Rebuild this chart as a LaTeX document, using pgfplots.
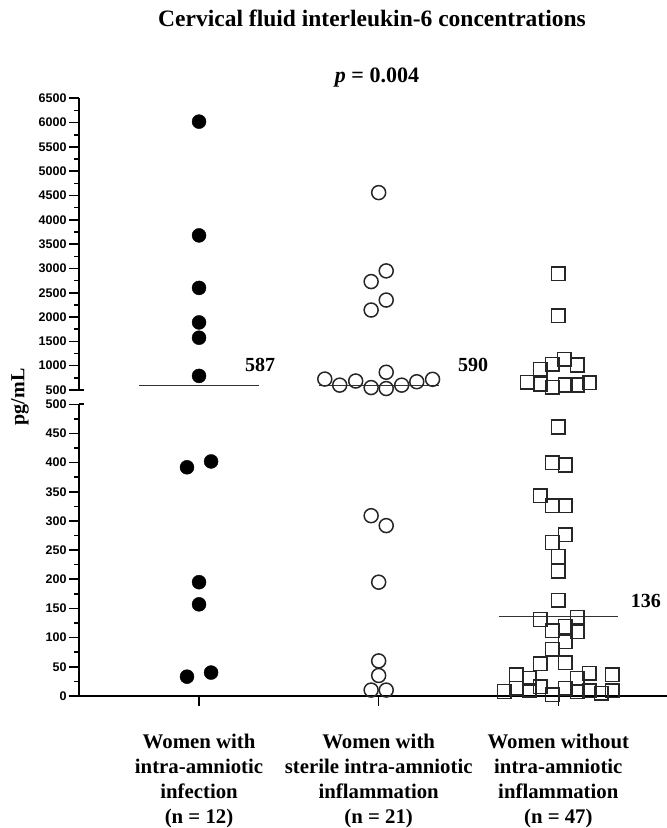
\documentclass[border=0pt]{standalone}
\usepackage{fontspec}
\setmainfont{Liberation Serif}
\newfontfamily\arialfont{Liberation Sans}
\usepackage{pgfplots}
\pgfplotsset{compat=1.18}
\tikzset{lab/.style={anchor=base west, inner sep=0pt, font=\bfseries\fontsize{20}{20}\selectfont},
 cat/.style={anchor=north, align=center, inner sep=0pt, yshift=-38pt, font=\bfseries\fontsize{20.8}{25}\selectfont}}
\begin{document}
\begin{tikzpicture}[x=1pt,y=1pt]
\path[use as bounding box] (0,0) rectangle (667,828);
\pgfplotsset{
 common/.style={
  scale only axis, width=588pt, xmin=0.3318, xmax=3.605, clip=false,
  axis line style={line width=2.2pt},
  every tick/.style={black, line width=1.6pt},
  major tick length=10pt, minor tick length=5pt,
  tick align=outside,
  yticklabel style={font=\arialfont\bfseries\fontsize{12.5}{12.5}\selectfont, xshift=1pt},
  /pgf/number format/assume math mode=true,
  /pgf/number format/set thousands separator={},
  minor y tick num=1,
 },
 fdot/.style={only marks, mark=*, mark size=7pt, black},
 ocirc/.style={only marks, mark=o, mark size=7pt, draw=black!85, mark options={line width=1.5pt}},
 osq/.style={only marks, mark=square, mark size=6.8pt, draw=black!85, mark options={line width=1.5pt}},
 med/.style={black!80, line width=1.4pt, no marks},
}
% upper segment
\begin{axis}[common, at={(79pt,438pt)}, anchor=south west, height=291.7pt,
  ymin=500, ymax=6500, ytick={500,1000,...,6500},
  axis x line=none, axis y line*=left]
\addplot[fdot] coordinates {(1,6020) (1,3680) (1,2600) (1,1890) (1,1575) (1,790)};
\addplot[ocirc] coordinates {(2,4560) (2.042,2950) (1.958,2730) (2.042,2350) (1.958,2145) (2.042,865)
 (1.70,725) (1.783,600) (1.872,685) (1.958,550) (2.042,530) (2.128,600) (2.212,670) (2.30,720)};
\addplot[osq] coordinates {(3,2890) (3,2030) (3.033,1131) (2.967,1028) (3.106,1014) (2.9,926)
 (2.827,658) (2.9,623) (2.967,555) (3.039,603) (3.106,603) (3.173,650)};
\addplot[med] coordinates {(0.667,587) (1.333,587)};
\addplot[med] coordinates {(1.667,590) (2.333,590)};
\end{axis}
% lower segment
\begin{axis}[common, at={(79pt,132.1pt)}, anchor=south west, height=291.6pt,
  ymin=0, ymax=500, ytick={0,50,...,500},
  axis x line*=bottom, axis y line*=left,
  xtick={1,2,3}, xticklabels={}]
\addplot[fdot] coordinates {(0.933,392) (1.067,402) (1,195) (1,157) (0.933,33) (1.067,40)};
\addplot[ocirc] coordinates {(1.958,309) (2.042,292) (2,195) (2,60) (2,35) (1.958,10) (2.042,10)};
\addplot[osq] coordinates {(3,461) (2.967,400) (3.039,396) (2.9,343) (2.967,326) (3.039,326)
 (3.039,276) (2.967,263) (3,239) (3,214) (3,164)
 (2.9,131) (3.106,135) (2.967,112) (3.039,119) (3.106,110) (3.039,93) (2.967,80) (2.9,55) (3.039,57)
 (2.766,36) (2.839,30) (3.173,39) (3.3,36) (3.106,30) (2.7,7.5) (2.766,13) (2.839,10) (2.9,16)
 (2.967,2) (3.039,13) (3.106,7.5) (3.173,8.6) (3.24,4.6) (3.3,9)};
\addplot[med] coordinates {(2.667,136) (3.333,136)};
\node[cat] at (axis cs:1,0) {Women with\\intra-amniotic\\infection\\(n = 12)};
\node[cat] at (axis cs:2,0) {Women with\\sterile intra-amniotic\\inflammation\\(n = 21)};
\node[cat] at (axis cs:3,0) {Women without\\intra-amniotic\\inflammation\\(n = 47)};
\end{axis}
\draw[line width=1.6pt] (79,438) -- (84,438);
\draw[line width=1.6pt] (79,423.7) -- (84,423.7);
\node[lab] at (245,456) {587};
\node[lab] at (458,456) {590};
\node[lab] at (630.7,220) {136};
\node[rotate=90, font=\bfseries\fontsize{20}{20}\selectfont] at (20,431) {pg/mL};
\node[anchor=base, font=\bfseries\fontsize{23.5}{24}\selectfont] at (372,801) {Cervical fluid interleukin-6 concentrations};
\node[anchor=base, font=\bfseries\fontsize{22}{22}\selectfont] at (377,745) {\textit{p} = 0.004};
\end{tikzpicture}
\end{document}
